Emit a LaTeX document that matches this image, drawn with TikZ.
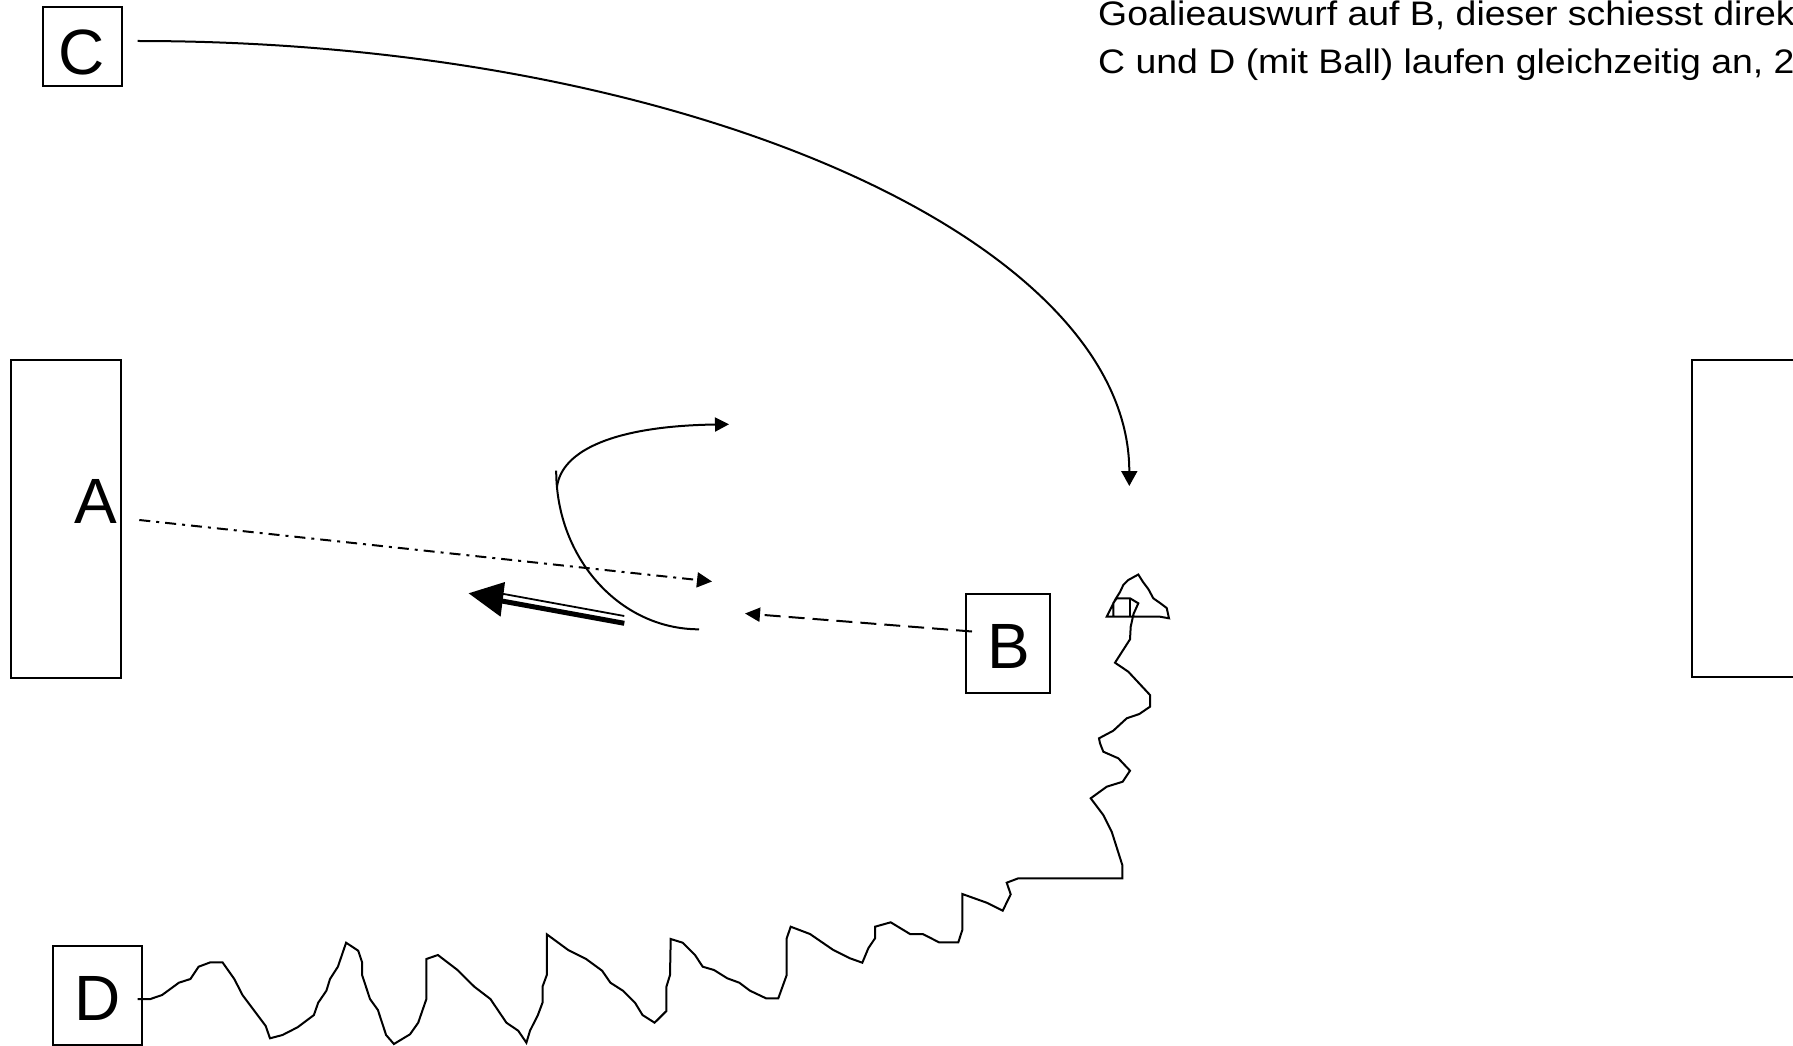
\documentclass[tikz,border=0pt]{standalone}
\usepackage{fontspec}
\setmainfont{Liberation Sans}
\newfontfamily\txtfont[FakeStretch=1.1]{Liberation Sans}
\usetikzlibrary{arrows.meta}
\begin{document}
\begin{tikzpicture}[x=1pt,y=-1pt,
  ln/.style={line width=2pt},
  box/.style={draw,line width=2.2pt,rectangle,inner sep=0pt},
  lbl/.style={inner sep=0pt,anchor=base,font=\fontsize{64}{70}\selectfont},
  txt/.style={inner sep=0pt,anchor=base west,font=\txtfont\fontsize{34}{40}\selectfont},
  tip/.style={-{Triangle[length=15pt,width=15pt]}}]
\useasboundingbox (0,0) rectangle (1793,1046);
% boxes
\node[box,minimum width=79pt,minimum height=79pt] (boxC) at (82.5,46.5) {};
\node[box,minimum width=110pt,minimum height=318pt] (boxA) at (66,519) {};
\node[box,minimum width=140pt,minimum height=317pt] (boxR) at (1761.7,518.5) {};
\node[box,minimum width=84pt,minimum height=99pt] (boxB) at (1008,643.5) {};
\node[box,minimum width=88.4pt,minimum height=99.3pt] (boxD) at (97.5,995.3) {};
% letters
\node[lbl] (C) at (81.5,75) {C};
\node[lbl] (A) at (95.8,523) {A};
\node[lbl] (B) at (1009,668) {B};
\node[lbl] (D) at (98,1020) {D};
% text
\node[txt] (t1) at (1098,26) {Goalieauswurf auf B, dieser schiesst direk};
\node[txt] (t2) at (1098,74) {C und D (mit Ball) laufen gleichzeitig an, 2};
% coordinates
\coordinate (Cs) at (137.5,41);
\coordinate (Ce) at (1129.3,486);
\coordinate (As) at (139.3,520);
\coordinate (Ae) at (712,581.5);
\coordinate (Bs) at (972,631.5);
\coordinate (Be) at (745,613.5);
\coordinate (k1) at (699,629.3);
\coordinate (k2) at (556.2,470.7);
\coordinate (k3) at (557,486.7);
\coordinate (k4) at (729,424.3);
\coordinate (T) at (468.7,593.3);
\coordinate (H1) at (505,582);
\coordinate (H2) at (500.6,616.7);
\coordinate (s1a) at (624.3,616);
\coordinate (s1b) at (500,593.3);
\coordinate (s2a) at (624.3,623.3);
\coordinate (s2b) at (498,600.3);
\coordinate (Ds) at (137.7,999);
% C run
\draw[ln,-{Triangle[length=15pt,width=16pt]}] (Cs) .. controls (685.3,41) and (1129.3,240.2) .. (Ce);
% A pass
\draw[ln,dash pattern=on 11pt off 6pt on 3pt off 6pt,tip] (As) -- (Ae);
% B pass
\draw[ln,dash pattern=on 16pt off 8pt,-{Triangle[length=15pt,width=14pt]}] (Bs) -- (Be);
% curves
\draw[ln] (k1) .. controls (620,629.3) and (556.2,558.4) .. (k2);
\draw[ln,-{Triangle[length=14pt,width=14pt]}] (k3) .. controls (562,450) and (615,426) .. (k4);
% shot arrow
\draw[line width=1.8pt] (s1a) -- (s1b);
\draw[line width=5pt] (s2a) -- (s2b);
\fill (T) -- (H1) -- (H2) -- cycle;
% D dribbling
\draw[ln] (Ds) -- (150.4,999) -- (162.1,995) -- (178.9,982.7) -- (190.4,979) -- (198.6,966.7) -- (210.4,962.3) -- (222.5,962.3) -- (234.3,979) -- (242.5,995) -- (265.7,1026) -- (270,1038.3) -- (282.5,1035) -- (297.5,1027.3) -- (313.9,1015) -- (318.2,1002.7) -- (326.4,990.7) -- (330,979) -- (337.9,966.7) -- (346.1,942.7) -- (358.2,950.7) -- (362.1,962.3) -- (362.1,975) -- (370,999) -- (377.9,1010) -- (386.1,1035) -- (393.9,1044) -- (410,1034.3) -- (418.2,1022.7) -- (426.4,999) -- (426.4,959) -- (437.9,955) -- (457.5,970) -- (474.3,986.7) -- (490.4,999) -- (506.4,1022.7) -- (518.2,1030.7) -- (526.4,1042.7) -- (530,1030.7) -- (537.9,1015) -- (542.5,1002.7) -- (542.5,986.7) -- (546.8,975) -- (546.8,934.3) -- (568.2,950) -- (586.1,959) -- (602.1,970.7) -- (610.4,982.7) -- (622.9,990.7) -- (635,1002.7) -- (642.5,1015) -- (654.6,1022.7) -- (666.4,1011) -- (666.4,986.7) -- (670,975) -- (670.7,939) -- (682.7,942.7) -- (695,955) -- (702.7,966.7) -- (714,970) -- (727.3,978.3) -- (739.3,982.7) -- (750,990.7) -- (766,998.3) -- (778.3,998.3) -- (786.7,975) -- (786.7,938.3) -- (790.7,926.7) -- (810,934) -- (833.3,950) -- (850,958.3) -- (862.3,962.7) -- (868.3,948.3) -- (875,938.3) -- (875,926.7) -- (890.7,922.3) -- (910,934) -- (922.7,934) -- (939,942.3) -- (958.3,942.3) -- (962.3,930) -- (962.3,894) -- (986.7,902.7) -- (1002.7,910.7) -- (1010.7,894.3) -- (1006.7,882.7) -- (1018.3,878.3) -- (1122.3,878.3) -- (1122.3,865) -- (1111.7,831.7) -- (1103.3,815) -- (1090.7,798.3) -- (1106.7,786.7) -- (1122.7,781.7) -- (1130,770.7) -- (1118.3,758.3) -- (1103.3,751.7) -- (1100,743.3) -- (1099,738.3) -- (1113.3,730.7) -- (1126.7,718.3) -- (1139.3,714) -- (1150,706.7) -- (1150,695) -- (1128.3,671.7) -- (1115,662.7) -- (1130,639.3) -- (1130.7,626.7) -- (1133.5,614) -- (1138.3,603.3) -- (1130,598.3) -- (1116.7,598.3) -- (1113.3,603) -- (1113.3,616.7) -- (1106.7,616.7) -- (1115,600) -- (1120,592) -- (1123.3,585) -- (1128.3,580) -- (1138.3,574.5) -- (1143,582) -- (1148.3,589) -- (1153.3,598.3) -- (1160,603) -- (1166.7,608) -- (1169,618.3) -- (1160,616.7) -- (1113.3,616.7);
\draw[ln] (1130,598.3) -- (1130,616.7);
\end{tikzpicture}
\end{document}
